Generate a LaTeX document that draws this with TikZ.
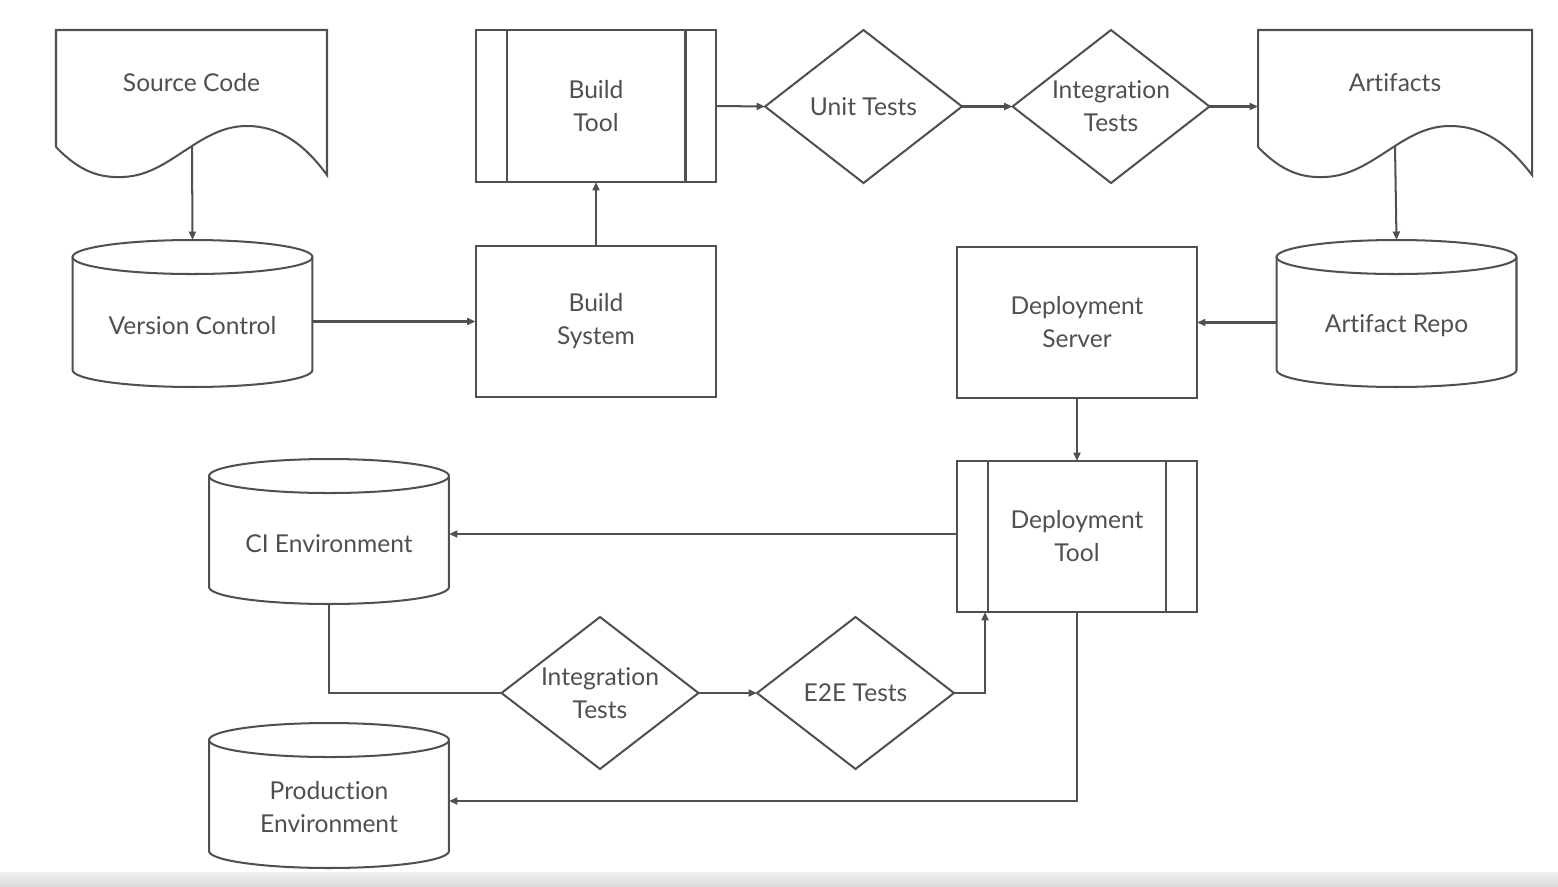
\documentclass[tikz,border=0pt]{standalone}
\usepackage{fontspec}
\setmainfont{Lato}[Ligatures=NoCommon]
\usetikzlibrary{arrows.meta,calc}
\definecolor{ink}{RGB}{80,80,80}
\definecolor{tx}{RGB}{80,80,80}
\newcommand\cylout[1]{%
  \draw[ln] ([yshift=-0.34cm]#1.north west) -- ([yshift=0.34cm]#1.south west)
    arc[start angle=180,end angle=360,x radius=2.4cm,y radius=0.34cm]
    -- ([yshift=-0.34cm]#1.north east);
  \draw[ln] ([yshift=-0.34cm]#1.north) ellipse[x radius=2.4cm,y radius=0.34cm];}
\newcommand\diaout[1]{\draw[ln] (#1.west) -- (#1.north) -- (#1.east) -- (#1.south) -- cycle;}
\newcommand\procout[1]{%
  \draw[ln] ([xshift=0.62cm]#1.north west) -- ([xshift=0.62cm]#1.south west);
  \draw[ln] ([xshift=-0.62cm]#1.north east) -- ([xshift=-0.62cm]#1.south east);}
\begin{document}
\begin{tikzpicture}[x=0.02cm,y=0.02cm,
  ln/.style={draw=ink,line width=1.15pt},
  arr/.style={ln,-{Triangle[length=0.17cm,width=0.14cm]}},
  txt/.style={text=tx,font=\fontsize{14}{18.8}\selectfont,align=center,inner sep=0pt,outer sep=0pt},
  rbox/.style={txt,minimum width=4.82cm,minimum height=3.02cm},
  dbox/.style={txt,minimum width=3.94cm,minimum height=3.06cm},
  cbox/.style={inner sep=0pt,outer sep=0pt,minimum width=4.8cm,minimum height=2.92cm},
  clab/.style={txt,yshift=-0.24cm}]

\useasboundingbox (0,0) rectangle (1558,-886);
\fill[white] (0,0) rectangle (1558,-886);
\shade[top color=gray!12,bottom color=gray!28] (0,-872) rectangle (1558,-886);

% documents
\draw[ln] (56,-147) -- (56,-30) -- (327,-30) -- (327,-175)
  .. controls (305,-145) and (280,-126) .. (247,-126)
  .. controls (228,-126) and (212,-133) .. (192,-146)
  .. controls (170,-160) and (150,-176) .. (123,-177)
  .. controls (100,-178) and (80,-172) .. (56,-147);
\node[txt,minimum width=5.42cm] (sc) at (191.5,-83) {Source Code};
\coordinate (scw) at (192,-146);

\draw[ln] (1258,-147) -- (1258,-30) -- (1532,-30) -- (1532,-175)
  .. controls (1509,-145) and (1484,-126) .. (1450,-126)
  .. controls (1431,-126) and (1415,-133) .. (1395,-146)
  .. controls (1373,-160) and (1352,-176) .. (1325,-177)
  .. controls (1302,-178) and (1282,-172) .. (1258,-147);
\node[txt,minimum width=5.48cm] (af) at (1395,-83) {Artifacts};
\coordinate (afw) at (1395,-146);

% process / rectangles
\node[rbox,draw=ink,line width=1.15pt,minimum height=3.04cm] (bt) at (596,-106) {Build\\Tool};
\procout{bt}
\node[rbox,draw=ink,line width=1.15pt] (bs) at (596,-321.5) {Build\\System};
\node[rbox,draw=ink,line width=1.15pt,minimum width=4.8cm] (ds) at (1077,-322.5) {Deployment\\Server};
\node[rbox,draw=ink,line width=1.15pt,minimum width=4.8cm] (dt) at (1077,-536.5) {Deployment\\Tool};
\procout{dt}

% diamonds
\node[dbox] (ut) at (863.5,-106.5) {Unit Tests};
\diaout{ut}
\node[dbox] (it) at (1111,-106.5) {Integration\\Tests};
\diaout{it}
\node[dbox,minimum height=3.04cm] (it2) at (600,-693) {Integration\\Tests};
\diaout{it2}
\node[dbox,minimum height=3.04cm] (ee) at (855.5,-693) {E2E Tests};
\diaout{ee}

% cylinders
\node[cbox,minimum height=2.94cm,label={[clab]center:Version Control}] (vc) at (192.5,-313.5) {};
\cylout{vc}
\node[cbox,minimum height=2.94cm,label={[clab]center:Artifact Repo}] (ar) at (1396.5,-313.5) {};
\cylout{ar}
\node[cbox,minimum height=2.9cm,label={[clab]center:CI Environment}] (ci) at (329,-531.5) {};
\cylout{ci}
\node[cbox,minimum height=2.9cm,label={[clab]center:Production\\Environment}] (pe) at (329,-795.5) {};
\cylout{pe}

% connectors
\draw[arr] (scw) -- (vc.north);
\draw[arr] (bs.west -| vc.east) -- (bs.west);
\draw[arr] (bs.north) -- (bt.south);
\draw[arr] (bt.east) -- (ut.west);
\draw[arr] (ut.east) -- (it.west);
\draw[arr] (it.east) -- (it.east -| af.west);
\draw[arr] (afw) -- (ar.north);
\draw[arr] (ds.east -| ar.west) -- (ds.east);
\draw[arr] (ds.south) -- (dt.north);
\draw[arr] ([yshift=0.05cm]dt.west) -- ([yshift=0.05cm]dt.west -| ci.east);
\draw[ln] (ci.south) |- (it2.west);
\draw[arr] (it2.east) -- (ee.west);
\draw[arr] (ee.east) -| ([xshift=0.56cm]dt.south west);
\draw[arr] (dt.south) |- ([yshift=-0.11cm]pe.east);
\end{tikzpicture}
\end{document}
